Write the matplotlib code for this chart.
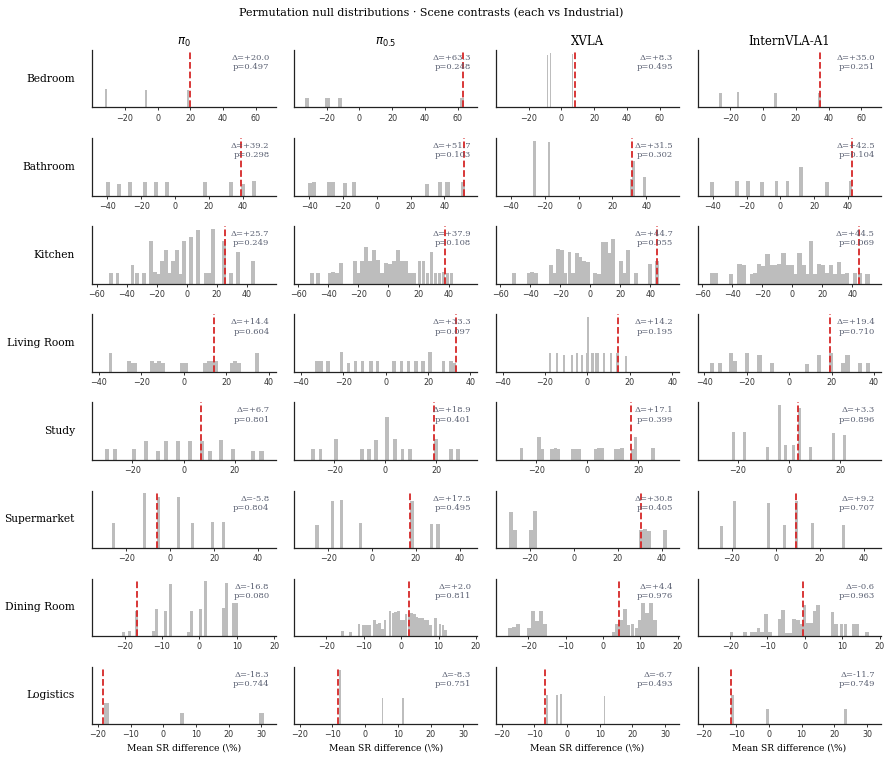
import matplotlib
matplotlib.use('Agg')
import matplotlib.pyplot as plt

# chart labels
title = 'Permutation null distributions · Scene contrasts (each vs Industrial)'
models = [r'$\pi_0$', r'$\pi_{0.5}$', 'XVLA', 'InternVLA-A1']
scenes = ['Bedroom', 'Bathroom', 'Kitchen', 'Living Room', 'Study',
          'Supermarket', 'Dining Room', 'Logistics']

# observed difference and p-value, one row per scene, one column per model
observed_delta = [
    [20.0, 63.3, 8.3, 35.0],
    [39.2, 51.7, 31.5, 42.5],
    [25.7, 37.9, 44.7, 44.5],
    [14.4, 33.3, 14.2, 19.4],
    [6.7, 18.9, 17.1, 3.3],
    [-5.8, 17.5, 30.8, 9.2],
    [-16.8, 2.0, 4.4, -0.6],
    [-18.3, -8.3, -6.7, -11.7],
]
p_values = [
    [0.497, 0.248, 0.495, 0.251],
    [0.298, 0.103, 0.302, 0.104],
    [0.249, 0.108, 0.055, 0.069],
    [0.604, 0.097, 0.195, 0.710],
    [0.801, 0.401, 0.399, 0.896],
    [0.804, 0.495, 0.405, 0.707],
    [0.080, 0.811, 0.976, 0.963],
    [0.744, 0.751, 0.493, 0.749],
]

# null histograms: bin centres and bin heights (relative), per model
bedroom_bins = [
    [-31.6, -7.0, 18.6],
    [-31.8, -19.5, -12.1, 62.4],
    [-8.3, -6.7, 6.7, 8.3],
    [-26.1, -15.3, 7.6, 34.3],
]
bedroom_counts = [
    [0.32, 0.30, 0.30],
    [0.16, 0.16, 0.16, 0.16],
    [0.91, 0.95, 0.93, 0.90],
    [0.25, 0.27, 0.25, 0.25],
]

bathroom_bins = [
    [-39.6, -33.2, -26.5, -17.8, -10.9, -4.5, 17.8, 33.0, 40.4, 46.6],
    [-39.5, -37.0, -28.3, -26.0, -18.6, -13.6, 29.7, 37.2, 41.8, 50.9],
    [-25.8, -17.5, 31.1, 32.7, 39.2],
    [-40.6, -25.7, -19.0, -10.7, -2.4, 4.2, 12.3, 27.3, 41.4],
]
bathroom_counts = [
    [0.23, 0.21, 0.23, 0.23, 0.23, 0.23, 0.23, 0.23, 0.21, 0.25],
    [0.22, 0.23, 0.23, 0.23, 0.22, 0.23, 0.21, 0.23, 0.23, 0.23],
    [0.95, 0.93, 0.29, 0.61, 0.32],
    [0.23, 0.26, 0.26, 0.23, 0.25, 0.25, 0.49, 0.23, 0.25],
]

kitchen_bins = [
    [-50.4, -46.0, -36.0, -33.3, -28.4, -24.0, -21.1, -18.9, -16.4, -13.8,
     -11.6, -8.9, -6.4, -4.2, -1.8, 2.7, 7.6, 12.7, 15.3, 17.3, 24.9, 29.6,
     34.2, 44.0],
    [-51.1, -46.7, -39.3, -36.9, -34.4, -31.8, -22.4, -20.0, -17.6, -14.9,
     -12.2, -9.6, -6.9, -4.2, -1.6, 1.1, 3.8, 6.4, 9.1, 11.8, 14.4, 17.1,
     20.7, 23.3, 26.0, 28.7, 31.3, 34.0, 36.7, 39.3, 42.0],
    [-50.8, -41.1, -38.7, -36.0, -26.1, -23.9, -21.4, -18.8, -16.6, -13.9,
     -11.5, -9.1, -6.6, -4.0, -1.5, 3.3, 5.7, 8.2, 10.6, 12.8, 15.0, 20.3,
     22.8, 25.2, 30.3, 39.6, 44.6],
    [-53.5, -50.8, -40.7, -35.1, -32.4, -27.0, -24.6, -21.9, -19.2, -16.5,
     -13.9, -11.2, -8.5, -5.8, -3.1, -0.4, 2.2, 4.9, 7.6, 10.3, 12.5, 15.2,
     17.9, 20.6, 23.2, 25.9, 28.6, 31.3, 34.0, 36.6, 42.0, 45.1, 50.1],
]
kitchen_counts = [
    [0.18, 0.18, 0.33, 0.18, 0.19, 0.75, 0.21, 0.16, 0.39, 0.58,
     0.19, 0.39, 0.58, 0.16, 0.75, 0.81, 0.93, 0.19, 0.19, 0.95, 0.74, 0.19,
     0.56, 0.39],
    [0.19, 0.18, 0.19, 0.21, 0.19, 0.36, 0.39, 0.18, 0.39, 0.63,
     0.39, 0.58, 0.42, 0.19, 0.36, 0.34, 0.39, 0.58, 0.39, 0.39, 0.19, 0.19,
     0.39, 0.39, 0.19, 0.56, 0.18, 0.19, 0.21, 0.19, 0.19],
    [0.18, 0.19, 0.21, 0.18, 0.32, 0.18, 0.60, 0.58, 0.19, 0.56,
     0.18, 0.53, 0.47, 0.39, 0.37, 0.18, 0.16, 0.72, 0.72, 0.54, 0.77, 0.39,
     0.18, 0.58, 0.18, 0.35, 0.39],
    [0.18, 0.18, 0.16, 0.35, 0.33, 0.16, 0.18, 0.35, 0.30, 0.51,
     0.33, 0.33, 0.35, 0.54, 0.33, 0.33, 0.16, 0.54, 0.33, 0.16, 0.75, 0.16,
     0.35, 0.33, 0.18, 0.32, 0.16, 0.37, 0.16, 0.19, 0.18, 0.19, 0.16],
]

living_bins = [
    [-34.5, -25.6, -24.2, -22.7, -14.9, -13.3, -11.6, -9.7, -0.6, 1.1,
     10.2, 11.8, 13.5, 15.4, 22.6, 24.3, 26.0, 34.5],
    [-32.3, -30.5, -27.2, -20.8, -17.5, -14.1, -10.8, -7.0, -3.8, 4.1,
     7.5, 10.8, 14.4, 17.7, 21.1, 27.3, 30.8, 32.3],
    [-17.8, -14.2, -11.0, -7.4, -5.0, -2.4, -0.4, 0.5, 2.4, 4.3, 5.2, 7.9,
     11.0, 14.2, 18.1],
    [-36.5, -32.5, -27.5, -25.6, -19.8, -14.0, -8.3, 8.4, 14.1, 19.8, 25.6,
     27.5, 33.3, 37.0],
]
living_counts = [
    [0.32, 0.18, 0.16, 0.16, 0.18, 0.16, 0.18, 0.16, 0.16, 0.16,
     0.16, 0.18, 0.18, 0.18, 0.16, 0.18, 0.16, 0.33],
    [0.18, 0.18, 0.19, 0.35, 0.16, 0.18, 0.18, 0.18, 0.18, 0.18,
     0.18, 0.19, 0.18, 0.18, 0.35, 0.18, 0.18, 0.16],
    [0.32, 0.32, 0.30, 0.30, 0.32, 0.30, 0.32, 0.96, 0.32, 0.33, 0.32, 0.32,
     0.33, 0.32, 0.28],
    [0.16, 0.16, 0.32, 0.18, 0.32, 0.30, 0.16, 0.14, 0.30, 0.32, 0.16,
     0.30, 0.16, 0.16],
]

study_bins = [
    [-30.1, -26.8, -19.3, -14.8, -9.9, -6.8, -2.1, 2.6, 7.3, 10.5, 14.6,
     19.5, 27.2, 30.5],
    [-28.2, -25.4, -19.3, -9.1, -6.3, -3.6, 0.8, 3.9, 6.7, 9.5, 19.7, 25.7,
     28.3],
    [-25.7, -18.8, -17.6, -13.7, -12.5, -11.2, -5.8, -4.5, -3.2, 3.3, 4.6,
     5.9, 11.0, 12.4, 13.7, 17.8, 18.9, 25.8],
    [-21.7, -17.4, -8.3, -3.9, -1.6, 1.6, 3.9, 8.3, 17.4, 21.7],
]
study_counts = [
    [0.18, 0.18, 0.18, 0.33, 0.16, 0.33, 0.33, 0.33, 0.33, 0.16, 0.35,
     0.18, 0.16, 0.16],
    [0.19, 0.18, 0.37, 0.18, 0.19, 0.35, 0.74, 0.37, 0.18, 0.18, 0.37, 0.18,
     0.18],
    [0.21, 0.39, 0.19, 0.19, 0.21, 0.19, 0.19, 0.19, 0.19, 0.19, 0.21,
     0.21, 0.19, 0.19, 0.21, 0.19, 0.40, 0.21],
    [0.49, 0.49, 0.23, 0.95, 0.25, 0.25, 0.91, 0.23, 0.47, 0.44],
]

supermarket_bins = [
    [-25.9, -11.8, -5.2, 3.8, 10.0, 19.1, 24.1],
    [-25.1, -18.0, -14.0, -5.2, 18.2, 27.1, 30.0],
    [-28.6, -26.8, -19.4, -17.6, 30.6, 32.3, 34.1, 41.5],
    [-24.7, -18.8, -3.3, 4.1, 9.4, 16.7, 30.8],
]
supermarket_counts = [
    [0.44, 0.95, 0.89, 0.88, 0.44, 0.46, 0.46],
    [0.40, 0.81, 0.84, 0.44, 0.82, 0.42, 0.42],
    [0.63, 0.32, 0.32, 0.65, 0.32, 0.33, 0.30, 0.32],
    [0.39, 0.82, 0.79, 0.40, 0.82, 0.44, 0.40],
]

dining_bins = [
    [-20.2, -18.6, -16.9, -12.2, -11.5, -9.1, -7.8, -2.9, -2.1, 0.3, 1.6,
     6.4, 7.2, 9.1, 9.9],
    [-15.7, -13.5, -11.3, -10.0, -9.2, -8.5, -7.1, -6.4, -5.7, -4.9, -4.3,
     -3.0, -2.2, -1.5, -0.8, -0.1, 0.6, 1.3, 2.1, 2.8, 3.5, 4.2, 4.9, 5.7,
     6.4, 7.1, 7.8, 9.2, 10.4, 11.2, 11.9],
    [-24.8, -23.7, -22.7, -19.7, -18.8, -17.7, -16.6, -15.6, 2.9, 3.8, 4.8,
     5.9, 6.8, 7.9, 9.0, 9.9, 10.8, 11.8, 12.8, 13.9],
    [-19.6, -16.0, -14.3, -13.4, -12.4, -11.4, -10.4, -9.4, -6.8, -5.9,
     -4.8, -3.8, -2.9, -1.9, -1.0, -0.1, 0.9, 1.8, 2.6, 3.5, 7.4, 8.4, 9.8,
     10.9, 13.0, 13.9, 16.7],
]
dining_counts = [
    [0.07, 0.09, 0.44, 0.09, 0.47, 0.44, 0.91, 0.07, 0.44, 0.47, 0.95,
     0.49, 0.93, 0.58, 0.58],
    [0.09, 0.07, 0.21, 0.19, 0.19, 0.19, 0.28, 0.21, 0.23, 0.12, 0.28,
     0.44, 0.40, 0.42, 0.44, 0.28, 0.28, 0.39, 0.39, 0.40, 0.39, 0.33, 0.32,
     0.32, 0.28, 0.28, 0.19, 0.32, 0.21, 0.19, 0.11],
    [0.14, 0.16, 0.21, 0.14, 0.44, 0.26, 0.44, 0.21, 0.07, 0.21, 0.28,
     0.47, 0.19, 0.21, 0.14, 0.28, 0.58, 0.40, 0.58, 0.28],
    [0.07, 0.07, 0.07, 0.07, 0.14, 0.07, 0.39, 0.07, 0.30, 0.46,
     0.05, 0.05, 0.30, 0.28, 0.21, 0.54, 0.23, 0.23, 0.44, 0.54, 0.42, 0.21,
     0.21, 0.21, 0.21, 0.21, 0.07],
]

logistics_bins = [
    [-17.4, 5.7, 30.0],
    [-7.8, 5.3, 11.6],
    [-6.2, -3.1, -1.9, 11.4],
    [-11.1, -0.3, 23.4],
]
logistics_counts = [
    [0.37, 0.19, 0.19],
    [0.95, 0.46, 0.46],
    [0.51, 0.51, 0.53, 0.49],
    [0.51, 0.26, 0.26],
]

null_bins = [bedroom_bins, bathroom_bins, kitchen_bins, living_bins,
             study_bins, supermarket_bins, dining_bins, logistics_bins]
null_counts = [bedroom_counts, bathroom_counts, kitchen_counts, living_counts,
               study_counts, supermarket_counts, dining_counts, logistics_counts]

# shared x range and ticks per scene row
row_xlim = [(-40, 72), (-49, 59.5), (-63, 59.2), (-43.2, 43.3),
            (-35.8, 36), (-35.6, 48), (-28.7, 20.4), (-21.8, 34.3)]
row_xticks = [[-20, 0, 20, 40, 60], [-40, -20, 0, 20, 40],
              [-60, -40, -20, 0, 20, 40], [-40, -20, 0, 20, 40],
              [-20, 0, 20], [-20, 0, 20, 40], [-20, -10, 0, 10, 20],
              [-20, -10, 0, 10, 20, 30]]

serif = 'DejaVu Serif'

fig, axes = plt.subplots(8, 4, figsize=(8.9, 7.59), dpi=100)
fig.subplots_adjust(left=0.1034, right=0.99, top=0.934, bottom=0.046,
                    wspace=0.1, hspace=0.535)

for r, scene in enumerate(scenes):
    for c, model in enumerate(models):
        ax = axes[r, c]
        xs = null_bins[r][c]
        hs = null_counts[r][c]
        # 40 bins over the null range
        w = (max(xs) - min(xs)) / 37
        ax.bar(xs, hs, width=w, color='#bdbdbd', linewidth=0)
        ax.axvline(observed_delta[r][c], color='#d62728', ls='--', lw=1.3,
                   zorder=3)
        ax.text(0.967, 0.93,
                f'Δ={observed_delta[r][c]:+.1f}\np={p_values[r][c]:.3f}',
                transform=ax.transAxes, ha='right', va='top',
                fontsize=6, family=serif, color='#5a6072')
        ax.set_xlim(*row_xlim[r])
        ax.set_xticks(row_xticks[r])
        ax.set_ylim(0, 1)
        ax.set_yticks([])
        for side in ['top', 'right']:
            ax.spines[side].set_visible(False)
        for side in ['left', 'bottom']:
            ax.spines[side].set_linewidth(0.9)
            ax.spines[side].set_color('#222222')
        ax.tick_params(axis='x', labelsize=5.8, length=2.5, width=0.7,
                       pad=2, colors='#333333')
        if r == 0:
            ax.set_title(model, fontsize=8.5, family=serif, pad=4)
        if c == 0:
            ax.text(-0.093, 0.5, scene, transform=ax.transAxes,
                    ha='right', va='center', fontsize=7.7, family=serif)
        if r == len(scenes) - 1:
            ax.set_xlabel('Mean SR difference (\\%)', fontsize=6.6,
                          family=serif, labelpad=3)

fig.suptitle(title, x=0.484, y=0.99, fontsize=8, family=serif)

plt.savefig('out.png', dpi=100, facecolor='white')
plt.close()
